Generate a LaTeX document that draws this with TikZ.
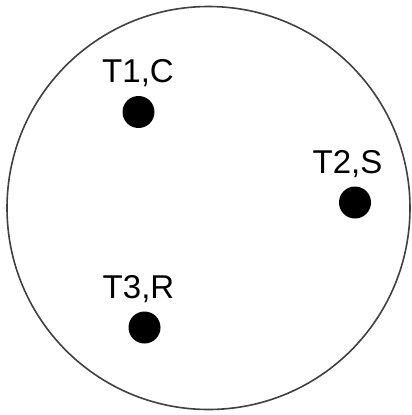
\documentclass[tikz,border=0pt]{standalone}
\usepackage{fontspec}
\setmainfont{Liberation Sans}
\begin{document}
\begin{tikzpicture}[x=1pt,y=-1pt,
  dot/.style={circle,fill=black,inner sep=0pt,minimum size=32pt},
  lbl/.style={anchor=base,inner sep=0pt,font=\fontsize{33}{36}\selectfont}]
\useasboundingbox (0,0) rectangle (412,415);
\node[draw=black!75,line width=1.6pt,circle,inner sep=0pt,minimum size=403pt] (ring) at (208.5,208) {};
\node[dot] (d1) at (138.5,112) {};
\node[dot] (d2) at (355,202.5) {};
\node[dot] (d3) at (144.5,327.5) {};
\node[lbl] (t1) at (138,82) {T1,C};
\node[lbl] (t2) at (347.5,173) {T2,S};
\node[lbl] (t3) at (138.5,298) {T3,R};
\end{tikzpicture}
\end{document}
